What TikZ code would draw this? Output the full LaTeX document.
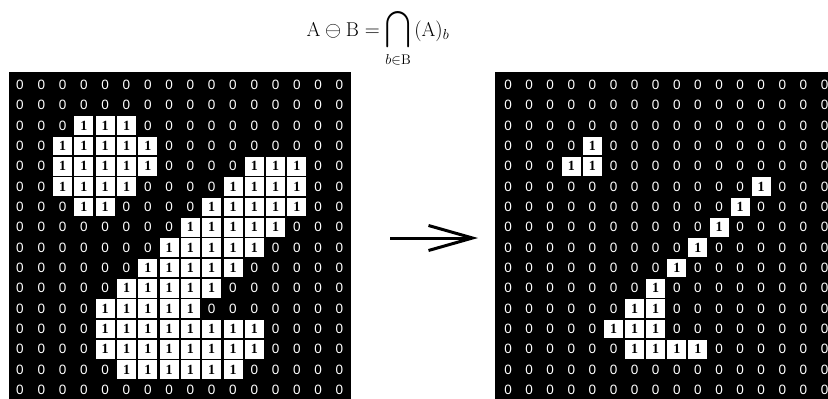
\documentclass[tikz,border=0pt]{standalone}
\usepackage{fontspec}
\usepackage{amsmath}
\usepackage{graphicx}
\setsansfont{Liberation Sans}
\newfontfamily\onefont{Liberation Serif}
\usetikzlibrary{arrows.meta}
\begin{document}
\begin{tikzpicture}[x=1pt,y=-1pt,
  zerocell/.style={text=white,inner sep=0pt,font=\sffamily\fontsize{13.5}{13.5}\selectfont},
  onecell/.style={fill=white,text=black,inner sep=0pt,minimum width=19pt,minimum height=18.5pt,font=\onefont\bfseries\fontsize{14}{14}\selectfont},
  panel/.style={fill=black},
  arrowline/.style={line width=3pt,-{Straight Barb[length=44pt,width=25pt]}}]
\useasboundingbox (0,0) rectangle (828,399);
\fill[white] (0,0) rectangle (828,399);
% formula
\node[inner sep=0pt] (formula) at (378,38) {\fontsize{20}{22}\selectfont$\displaystyle \mathrm{A}\ominus\mathrm{B}=\mathop{\scalebox{1.1}[1.25]{$\displaystyle\bigcap$}}\limits_{b\in \mathrm{B}}\,(\mathrm{A})_{b}$};
% panels
\fill[panel] (9,72) rectangle (351,399);
\fill[panel] (495,72) rectangle (828,399);
% left grid
\foreach \r/\row in {
 1/{0,0,0,0,0,0,0,0,0,0,0,0,0,0,0,0},
 2/{0,0,0,0,0,0,0,0,0,0,0,0,0,0,0,0},
 3/{0,0,0,1,1,1,0,0,0,0,0,0,0,0,0,0},
 4/{0,0,1,1,1,1,1,0,0,0,0,0,0,0,0,0},
 5/{0,0,1,1,1,1,1,0,0,0,0,1,1,1,0,0},
 6/{0,0,1,1,1,1,0,0,0,0,1,1,1,1,0,0},
 7/{0,0,0,1,1,0,0,0,0,1,1,1,1,1,0,0},
 8/{0,0,0,0,0,0,0,0,1,1,1,1,1,0,0,0},
 9/{0,0,0,0,0,0,0,1,1,1,1,1,0,0,0,0},
 10/{0,0,0,0,0,0,1,1,1,1,1,0,0,0,0,0},
 11/{0,0,0,0,0,1,1,1,1,1,0,0,0,0,0,0},
 12/{0,0,0,0,1,1,1,1,1,0,0,0,0,0,0,0},
 13/{0,0,0,0,1,1,1,1,1,1,1,1,0,0,0,0},
 14/{0,0,0,0,1,1,1,1,1,1,1,1,0,0,0,0},
 15/{0,0,0,0,0,1,1,1,1,1,1,0,0,0,0,0},
 16/{0,0,0,0,0,0,0,0,0,0,0,0,0,0,0,0}}{
  \foreach \v [count=\c] in \row {
    \ifnum\v=1
      \node[onecell] (L\r-\c) at ({20+21.3*(\c-1)},{85+20.33*(\r-1)}) {1};
    \else
      \node[zerocell] (L\r-\c) at ({20+21.3*(\c-1)},{85+20.33*(\r-1)}) {0};
    \fi
  }
}
% right grid
\foreach \r/\row in {
 1/{0,0,0,0,0,0,0,0,0,0,0,0,0,0,0,0},
 2/{0,0,0,0,0,0,0,0,0,0,0,0,0,0,0,0},
 3/{0,0,0,0,0,0,0,0,0,0,0,0,0,0,0,0},
 4/{0,0,0,0,1,0,0,0,0,0,0,0,0,0,0,0},
 5/{0,0,0,1,1,0,0,0,0,0,0,0,0,0,0,0},
 6/{0,0,0,0,0,0,0,0,0,0,0,0,1,0,0,0},
 7/{0,0,0,0,0,0,0,0,0,0,0,1,0,0,0,0},
 8/{0,0,0,0,0,0,0,0,0,0,1,0,0,0,0,0},
 9/{0,0,0,0,0,0,0,0,0,1,0,0,0,0,0,0},
 10/{0,0,0,0,0,0,0,0,1,0,0,0,0,0,0,0},
 11/{0,0,0,0,0,0,0,1,0,0,0,0,0,0,0,0},
 12/{0,0,0,0,0,0,1,1,0,0,0,0,0,0,0,0},
 13/{0,0,0,0,0,1,1,1,0,0,0,0,0,0,0,0},
 14/{0,0,0,0,0,0,1,1,1,1,0,0,0,0,0,0},
 15/{0,0,0,0,0,0,0,0,0,0,0,0,0,0,0,0},
 16/{0,0,0,0,0,0,0,0,0,0,0,0,0,0,0,0}}{
  \foreach \v [count=\c] in \row {
    \ifnum\v=1
      \node[onecell] (R\r-\c) at ({508+21.1*(\c-1)},{85+20.33*(\r-1)}) {1};
    \else
      \node[zerocell] (R\r-\c) at ({508+21.1*(\c-1)},{85+20.33*(\r-1)}) {0};
    \fi
  }
}
% arrow
\coordinate (arrS) at (390,238);
\coordinate (arrE) at (478,238);
\draw[arrowline] (arrS) -- (arrE);
\end{tikzpicture}
\end{document}
